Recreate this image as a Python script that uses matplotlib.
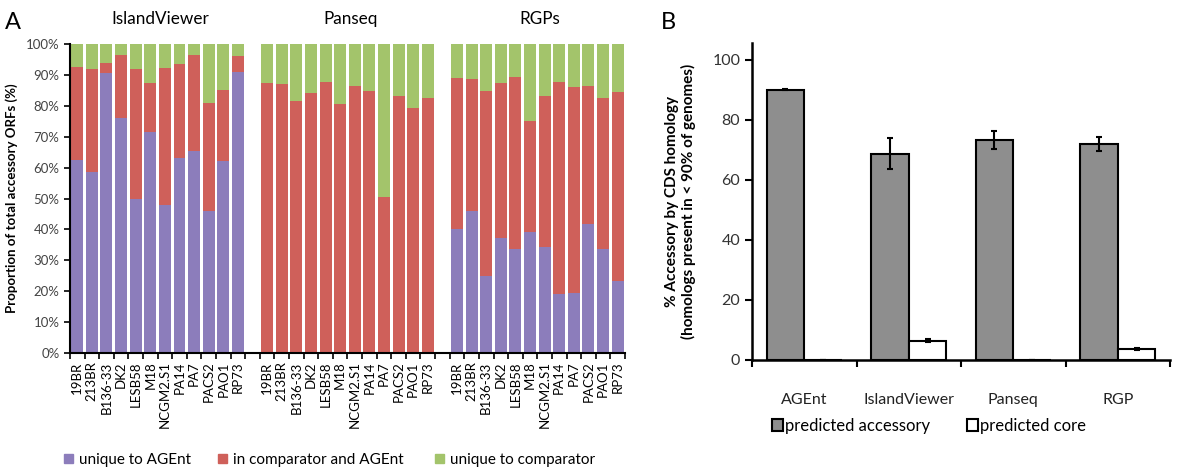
import matplotlib
matplotlib.use("Agg")
import matplotlib.pyplot as plt
import numpy as np
from matplotlib.patches import Patch
from matplotlib.ticker import FixedLocator, PercentFormatter

plt.rcParams['font.family'] = ['Lato', 'DejaVu Sans']

# ---------------- data ----------------
strains = ["19BR", "213BR", "B136-33", "DK2", "LESB58", "M18", "NCGM2.S1",
           "PA14", "PA7", "PACS2", "PAO1", "RP73"]
tools_a = ["IslandViewer", "Panseq", "RGPs"]

# Panel A: segments (% of total accessory ORFs)
iv_unique_agent = [62.5, 58.5, 90.5, 76.0, 50.0, 71.5, 48.0, 63.0, 65.5, 46.0, 62.0, 91.0]
iv_shared       = [30.0, 33.5, 3.5, 20.5, 42.0, 15.8, 44.3, 30.5, 30.8, 35.0, 23.0, 5.0]
iv_unique_comp  = [7.5, 8.0, 6.0, 3.5, 8.0, 12.7, 7.7, 6.5, 3.7, 19.0, 15.0, 4.0]

ps_unique_agent = [0, 0, 0, 0, 0, 0, 0, 0, 0, 0, 0, 0]
ps_shared       = [87.5, 87.0, 81.4, 84.3, 87.8, 80.6, 86.4, 84.8, 50.6, 83.2, 79.2, 82.4]
ps_unique_comp  = [12.5, 13.0, 18.6, 15.7, 12.2, 19.4, 13.6, 15.2, 49.4, 16.8, 20.8, 17.6]

rg_unique_agent = [40.0, 46.0, 24.8, 37.2, 33.6, 39.3, 34.3, 19.2, 19.4, 41.8, 33.6, 23.2]
rg_shared       = [48.9, 42.6, 60.1, 50.3, 55.8, 35.9, 48.9, 68.6, 66.6, 44.6, 48.8, 61.4]
rg_unique_comp  = [11.1, 11.4, 15.1, 12.5, 10.6, 24.8, 16.8, 12.2, 14.0, 13.6, 17.6, 15.4]

legend_a = ["unique to AGEnt", "in comparator and AGEnt", "unique to comparator"]

# Panel B
tools_b = ["AGEnt", "IslandViewer", "Panseq", "RGP"]
accessory = [90.0, 68.7, 73.3, 71.9]
accessory_err = [0.2, 5.1, 3.0, 2.2]
core = [0.0, 6.4, 0.0, 3.6]
core_err = [0.0, 0.5, 0.0, 0.4]
legend_b = ["predicted accessory", "predicted core"]

# ---------------- style ----------------
c_purple = "#8C7DBB"
c_red = "#CF605A"
c_green = "#A3C46B"
c_gray = "#8E8E8E"
W, H = 1200, 471

fig = plt.figure(figsize=(12, 4.71), dpi=100)

# ---------------- Panel A ----------------
axA = fig.add_axes([0.0583, 0.2505, 0.4625, 0.6561])
groups = [(iv_unique_agent, iv_shared, iv_unique_comp),
          (ps_unique_agent, ps_shared, ps_unique_comp),
          (rg_unique_agent, rg_shared, rg_unique_comp)]
n = len(strains)
all_pos, all_labels = [], []
for g, (ua, sh, uc) in enumerate(groups):
    pos = np.arange(n) + g * (n + 1)
    ua = np.array(ua) / 100
    sh = np.array(sh) / 100
    uc = np.array(uc) / 100
    w = 0.82
    axA.bar(pos, ua, width=w, color=c_purple, linewidth=0)
    axA.bar(pos, sh, width=w, bottom=ua, color=c_red, linewidth=0)
    axA.bar(pos, uc, width=w, bottom=ua + sh, color=c_green, linewidth=0)
    all_pos.extend(pos)
    all_labels.extend(strains)
    axA.text(pos.mean() + 0.2, 1.055, tools_a[g], ha="center", va="bottom",
             fontsize=12.3, transform=axA.get_xaxis_transform())

total = 3 * n + 2
axA.set_xlim(-0.5, total - 0.5)
axA.set_ylim(0, 1)
axA.set_xticks(all_pos)
axA.set_xticklabels(all_labels, rotation=90, fontsize=9.5)
axA.tick_params(axis="x", which="major", length=0, pad=6)
axA.xaxis.set_minor_locator(FixedLocator(np.arange(-0.5, total, 1.0)))
axA.tick_params(axis="x", which="minor", length=4, width=1.2, direction="out")
axA.set_yticks(np.arange(0, 1.01, 0.1))
axA.yaxis.set_major_formatter(PercentFormatter(1.0, decimals=0))
axA.tick_params(axis="y", length=4, width=1.2, labelsize=9.5, labelcolor="#444444")
axA.set_ylabel("Proportion of total accessory ORFs (%)", fontsize=9.5,
               fontweight="bold", labelpad=6)
for s in ["top", "right"]:
    axA.spines[s].set_visible(False)
for s in ["left", "bottom"]:
    axA.spines[s].set_linewidth(1.5)

# legend entries of panel A, one per colour, at their own positions
for col, lab, xpx in zip([c_purple, c_red, c_green], legend_a, [64, 218, 435]):
    fig.legend([Patch(color=col)], [lab], loc="center left",
               bbox_to_anchor=(xpx / W, 1 - 460 / H), frameon=False,
               fontsize=11, handlelength=0.6, handleheight=0.6,
               handletextpad=0.35, borderpad=0, borderaxespad=0)

fig.text(0.004, 0.975, "A", fontsize=17, va="top", ha="left")
fig.text(0.551, 0.975, "B", fontsize=17, va="top", ha="left")

# ---------------- Panel B ----------------
axB = fig.add_axes([0.6267, 0.2357, 0.3483, 0.673])
x = np.arange(len(tools_b))
bw = 0.36
axB.bar(x - bw / 2, accessory, width=bw, color=c_gray, edgecolor="black",
        linewidth=1.5, yerr=accessory_err, capsize=2.5,
        error_kw=dict(elinewidth=1.5, capthick=1.5, ecolor="black"))
axB.bar(x + bw / 2, core, width=bw, color="white", edgecolor="black",
        linewidth=1.5, yerr=core_err, capsize=2.5,
        error_kw=dict(elinewidth=1.5, capthick=1.5, ecolor="black"))
axB.set_xlim(-0.5, len(tools_b) - 0.5)
axB.set_ylim(0, 105.5)
axB.set_xticks(x)
axB.set_xticklabels(tools_b, fontsize=11.5, color="#222222")
axB.tick_params(axis="x", which="major", length=0, pad=24)
axB.xaxis.set_minor_locator(FixedLocator(np.arange(-0.5, len(tools_b), 1.0)))
axB.tick_params(axis="x", which="minor", length=5, width=1.5, direction="out")
axB.set_yticks(np.arange(0, 101, 20))
axB.tick_params(axis="y", length=5, width=1.5, labelsize=11.5, labelcolor="#333333")
axB.set_ylabel("% Accessory by CDS homology\n(homologs present in < 90% of genomes)",
               fontsize=11, fontweight="bold", labelpad=12, linespacing=1.1)
for s in ["top", "right"]:
    axB.spines[s].set_visible(False)
for s in ["left", "bottom"]:
    axB.spines[s].set_linewidth(1.8)

handles_b = [Patch(facecolor=c_gray, edgecolor="black", linewidth=1.5),
             Patch(facecolor="white", edgecolor="black", linewidth=1.5)]
for hnd, lab, xpx in zip(handles_b, legend_b, [772, 967]):
    fig.legend([hnd], [lab], loc="center left",
               bbox_to_anchor=(xpx / W, 1 - 426 / H), frameon=False,
               fontsize=12, handlelength=0.65, handleheight=0.75,
               handletextpad=0.15, borderpad=0, borderaxespad=0)

fig.savefig("out.png", dpi=100)
